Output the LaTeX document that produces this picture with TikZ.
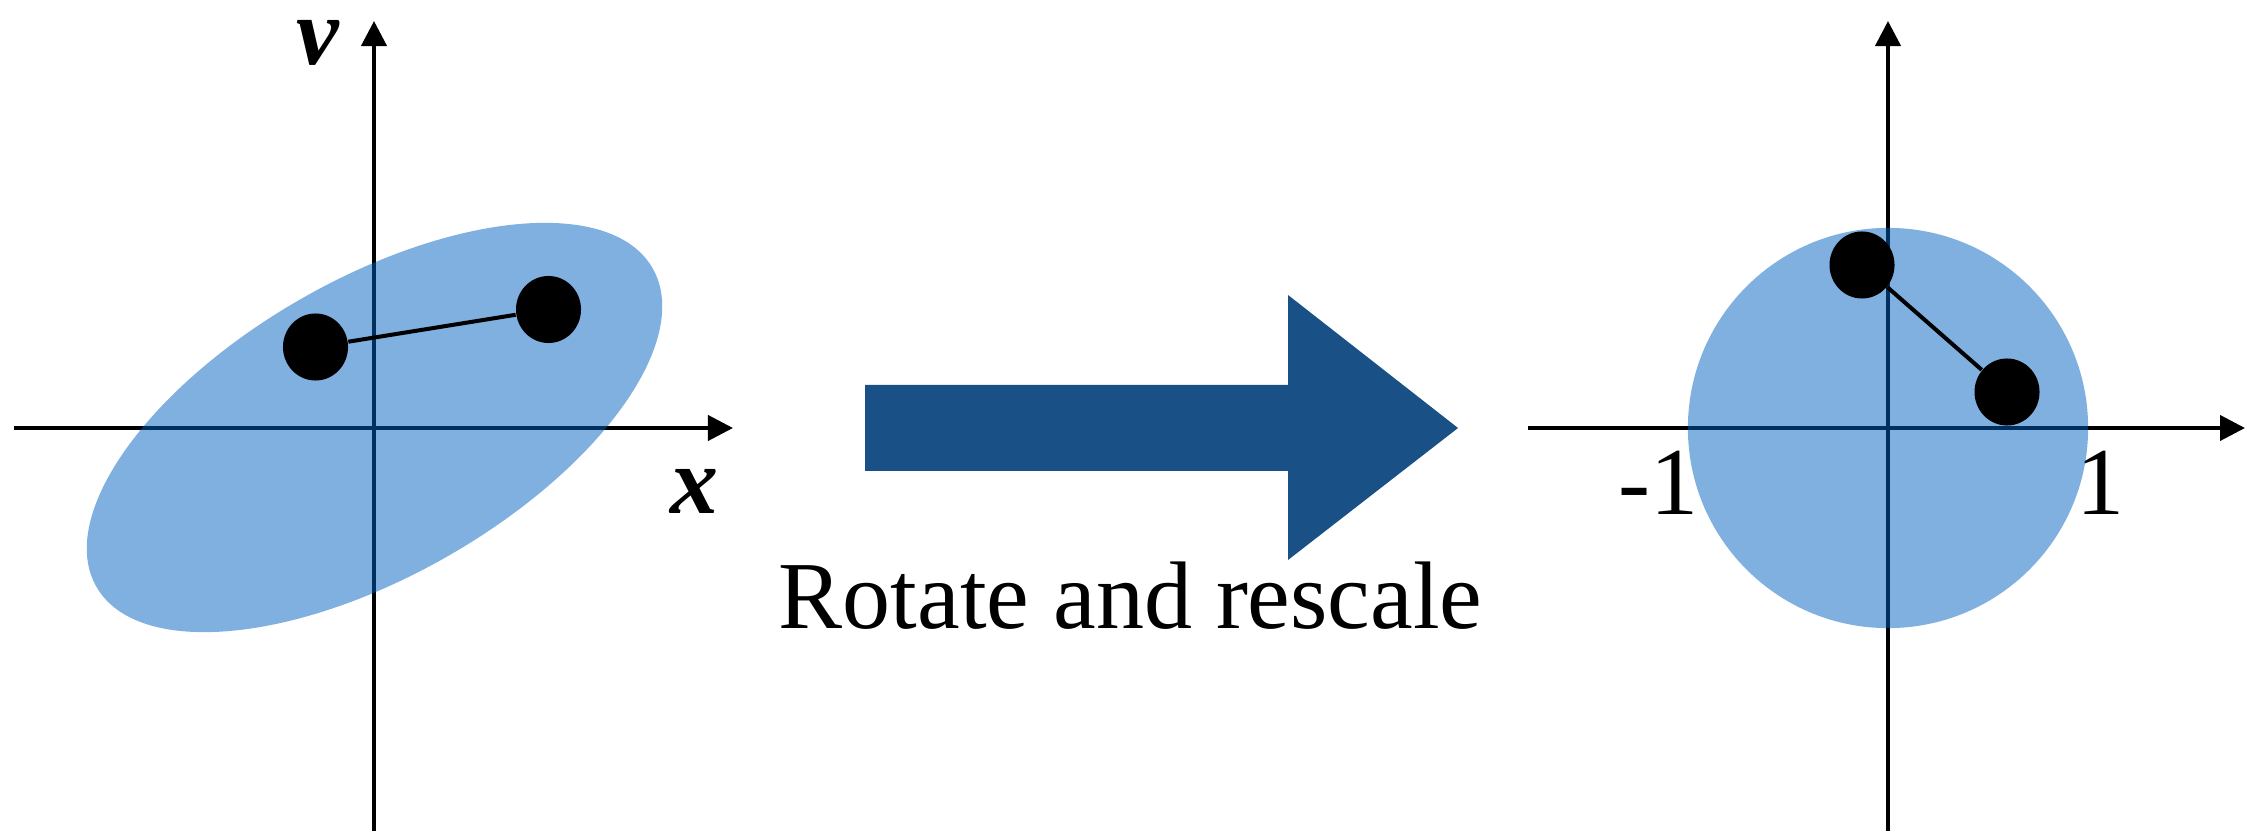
\documentclass[tikz,border=0pt]{standalone}
\usepackage{fontspec}
\setmainfont{Liberation Serif}
\usetikzlibrary{arrows.meta,shapes.geometric}
\definecolor{regionblue}{RGB}{0,97,191}
\definecolor{mapblue}{RGB}{25,80,134}
\tikzset{
  axis/.style={line width=0.04cm, -{Triangle[length=0.25cm,width=0.25cm]}},
  region/.style={fill=regionblue, fill opacity=0.5},
  dot/.style={ellipse, fill=black, inner sep=0pt, minimum width=0.65cm, minimum height=0.67cm},
  link/.style={line width=0.04cm},
  lbl/.style={font=\fontsize{27.3pt}{30pt}\selectfont, inner sep=0pt},
  mathlbl/.style={lbl, font=\fontsize{27.3pt}{30pt}\selectfont\bfseries\itshape}
}
\begin{document}
\begin{tikzpicture}[x=0.01cm, y=-0.01cm]
\useasboundingbox (0,0) rectangle (2246,831);

% left frame: axes
\coordinate (lxs) at (14,428);
\coordinate (lxe) at (733,428);
\coordinate (lys) at (374,831);
\coordinate (lye) at (374,21);
\draw[axis] (lxs) -- (lxe);
\draw[axis] (lys) -- (lye);
\node[mathlbl, anchor=base] (vlab) at (318,65) {v};
\node[mathlbl, anchor=base] (xlab) at (694,514) {x};

% correlated region
\fill[region, rotate around={29.8:(374.5,427.5)}] (374.5,427.5) ellipse [x radius=3.203cm, y radius=1.48cm];

% two points in the left frame
\node[dot] (a1) at (315.5,347) {};
\node[dot] (a2) at (548.5,309.5) {};
\draw[link] (a1) -- (a2);

% transformation arrow
\fill[mapblue] (865,385) -- (1288,385) -- (1288,295) -- (1458,428) -- (1288,560) -- (1288,471) -- (865,471) -- cycle;
\node[lbl, anchor=base west] (rot) at (778,628) {Rotate and rescale};

% right frame: axes
\coordinate (rxs) at (1528,428);
\coordinate (rxe) at (2245,428);
\coordinate (rys) at (1888,831);
\coordinate (rye) at (1888,21);
\draw[axis] (rxs) -- (rxe);
\draw[axis] (rys) -- (rye);
\node[lbl, anchor=base] (m1) at (1658,515) {-1};
\node[lbl, anchor=base] (p1) at (2100,515) {1};

% whitened region
\fill[region] (1888,428) circle [radius=2.0cm];

% two points in the right frame
\node[dot] (b1) at (1862,265) {};
\node[dot] (b2) at (2007,392) {};
\draw[link] (b1) -- (b2);
\end{tikzpicture}
\end{document}
